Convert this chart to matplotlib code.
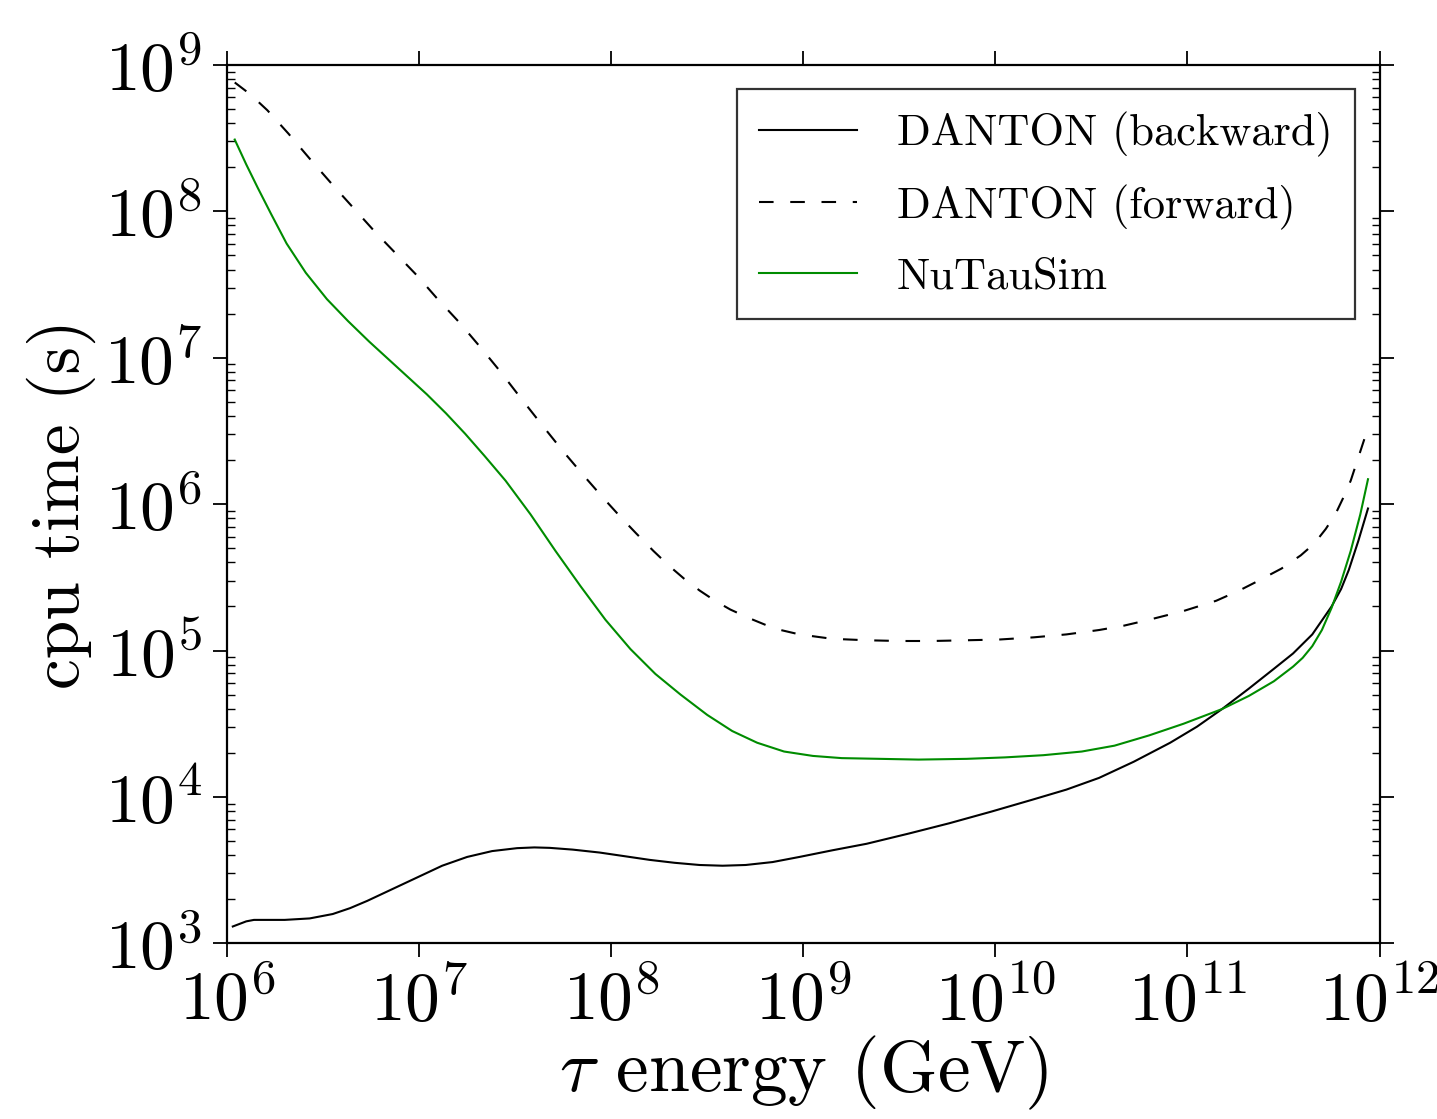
import numpy as np
import matplotlib
matplotlib.use("Agg")
from matplotlib import pyplot as plt
from matplotlib.ticker import FuncFormatter, LogLocator, NullFormatter

plt.rcParams['font.family'] = 'serif'
plt.rcParams['font.serif'] = ['cmr10']
plt.rcParams['mathtext.fontset'] = 'cm'
plt.rcParams['axes.unicode_minus'] = False
plt.rcParams['axes.formatter.use_mathtext'] = True

# log10(energy / GeV) and log10(cpu time / s)
back_loge = [6.03, 6.10, 6.14, 6.30, 6.43, 6.55, 6.64, 6.73, 6.86, 6.99, 7.12, 7.25,
             7.38, 7.51, 7.60, 7.68, 7.80, 7.94, 8.07, 8.20, 8.33, 8.46, 8.58, 8.70,
             8.84, 8.98, 9.15, 9.33, 9.55, 9.76, 9.98, 10.19, 10.37, 10.54, 10.72,
             10.91, 11.05, 11.18, 11.32, 11.45, 11.55, 11.65, 11.75, 11.80, 11.84,
             11.89, 11.94]
back_logt = [3.115, 3.15, 3.16, 3.16, 3.17, 3.20, 3.24, 3.29, 3.37, 3.45, 3.53, 3.59,
             3.63, 3.65, 3.655, 3.652, 3.64, 3.62, 3.595, 3.57, 3.55, 3.535, 3.53, 3.535,
             3.555, 3.59, 3.635, 3.68, 3.75, 3.82, 3.90, 3.98, 4.05, 4.13, 4.24,
             4.37, 4.48, 4.60, 4.74, 4.875, 4.98, 5.11, 5.30, 5.42, 5.55,
             5.75, 5.97]

fwd_loge = [6.04, 6.12, 6.21, 6.32, 6.43, 6.55, 6.66, 6.77, 6.88, 6.99, 7.09, 7.21,
            7.32, 7.42, 7.52, 7.64, 7.75, 7.86, 7.96, 8.05, 8.13, 8.22, 8.30, 8.38,
            8.46, 8.54, 8.62, 8.72, 8.85, 8.98, 9.15, 9.33, 9.50, 9.67, 9.85, 10.02,
            10.20, 10.37, 10.54, 10.67, 10.80, 10.98, 11.15, 11.27, 11.36, 11.49,
            11.59, 11.66, 11.72, 11.77, 11.81, 11.85, 11.88, 11.93]
fwd_logt = [8.88, 8.80, 8.69, 8.53, 8.36, 8.18, 8.02, 7.86, 7.71, 7.56, 7.41, 7.24,
            7.07, 6.91, 6.74, 6.54, 6.36, 6.19, 6.04, 5.91, 5.80, 5.68, 5.58, 5.49,
            5.41, 5.34, 5.28, 5.22, 5.15, 5.11, 5.08, 5.07, 5.065, 5.065, 5.07, 5.075,
            5.09, 5.11, 5.14, 5.17, 5.21, 5.27, 5.34, 5.41, 5.47, 5.56,
            5.65, 5.73, 5.83, 5.93, 6.04, 6.16, 6.28, 6.48]

nts_loge = [6.04, 6.10, 6.16, 6.23, 6.31, 6.41, 6.52, 6.63, 6.74, 6.84, 6.94, 7.04,
            7.14, 7.24, 7.34, 7.45, 7.58, 7.71, 7.84, 7.97, 8.10, 8.23, 8.36, 8.50,
            8.63, 8.76, 8.90, 9.05, 9.20, 9.40, 9.60, 9.85, 10.05, 10.25, 10.45,
            10.62, 10.80, 10.98, 11.18, 11.32, 11.45, 11.55, 11.60, 11.65, 11.70,
            11.75, 11.80, 11.85, 11.90, 11.94]
nts_logt = [8.49, 8.32, 8.16, 7.98, 7.78, 7.58, 7.40, 7.25, 7.11, 6.99, 6.87, 6.75,
            6.62, 6.48, 6.33, 6.16, 5.93, 5.68, 5.44, 5.21, 5.01, 4.84, 4.70, 4.56,
            4.45, 4.37, 4.31, 4.28, 4.265, 4.26, 4.255, 4.26, 4.27, 4.285, 4.31,
            4.35, 4.42, 4.50, 4.60, 4.69, 4.79, 4.89, 4.95, 5.03, 5.14,
            5.29, 5.47, 5.68, 5.93, 6.17]

labels = ['DANTON (backward)', 'DANTON (forward)', 'NuTauSim']

fig = plt.figure(figsize=(14.37, 11.19), dpi=100)
ax = fig.add_axes([0.158, 0.157, 0.802, 0.785])

ax.plot(10 ** np.array(back_loge), 10 ** np.array(back_logt), color='k', lw=1.5, label=labels[0])
ax.plot(10 ** np.array(fwd_loge), 10 ** np.array(fwd_logt), color='k', lw=1.5,
        dashes=(7, 8), label=labels[1])
ax.plot(10 ** np.array(nts_loge), 10 ** np.array(nts_logt), color=(0, 0.55, 0), lw=1.5, label=labels[2])

ax.set_xscale('log')
ax.set_yscale('log')
ax.set_xlim(1e6, 1e12)
ax.set_ylim(1e3, 1e9)

fmt = FuncFormatter(lambda v, p: r'$10^{%d}$' % round(np.log10(v)))
ax.xaxis.set_major_locator(LogLocator(base=10, numticks=10))
ax.yaxis.set_major_locator(LogLocator(base=10, numticks=10))
ax.xaxis.set_major_formatter(fmt)
ax.yaxis.set_major_formatter(fmt)
ax.xaxis.set_minor_formatter(NullFormatter())
ax.yaxis.set_minor_formatter(NullFormatter())
ax.tick_params(which='major', direction='out', length=10, width=1.3, labelsize=50,
               top=True, right=True, pad=8)
ax.tick_params(which='minor', direction='in', length=6, width=1.0, top=True, right=True)
for s in ax.spines.values():
    s.set_linewidth(1.6)

ax.set_xlabel(r'$\tau$ energy (GeV)', fontsize=53, labelpad=0)
ax.set_ylabel('cpu time (s)', fontsize=50, labelpad=6)

leg = ax.legend(loc='upper right', fontsize=32, fancybox=False, handlelength=2.2,
                borderaxespad=0.55, labelspacing=0.62, borderpad=0.5, handletextpad=0.9)
leg.get_frame().set_edgecolor('k')
leg.get_frame().set_linewidth(1.6)

fig.savefig('out.png', dpi=100)
